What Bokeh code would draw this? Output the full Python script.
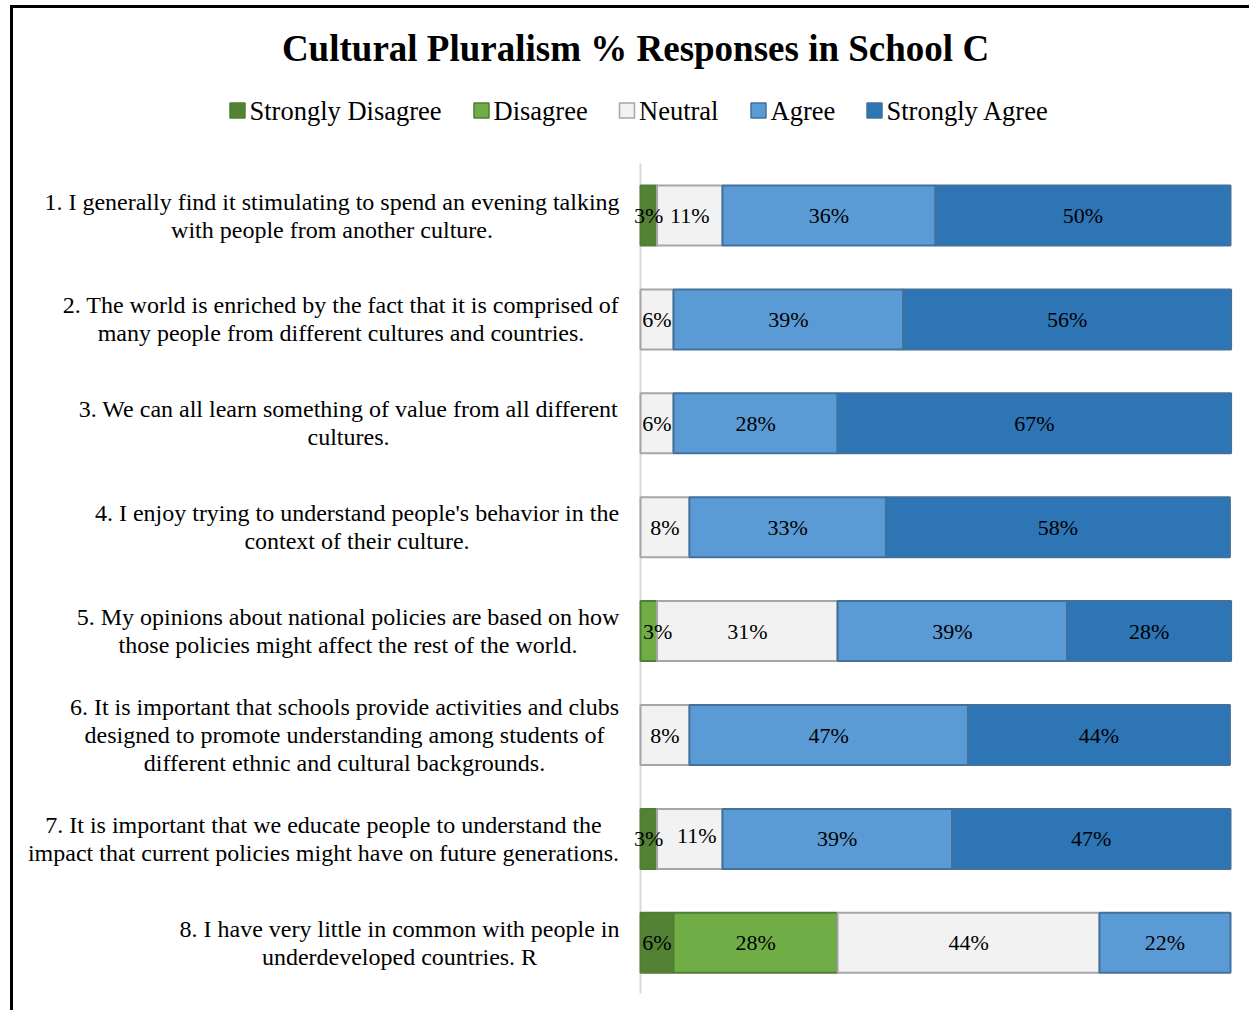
from bokeh.plotting import figure
from bokeh.models import Range1d
from bokeh.core.properties import value
from bokeh.embed import file_html
from bokeh.resources import INLINE

# ---------------- data ----------------
title = "Cultural Pluralism % Responses in School C"
levels = ["Strongly Disagree", "Disagree", "Neutral", "Agree", "Strongly Agree"]
statements = [
    ["1. I generally find it stimulating to spend an evening talking",
     "with people from another culture."],
    ["2. The world is enriched by the fact that it is comprised of",
     "many people from different cultures and countries."],
    ["3. We can all learn something of value from all different",
     "cultures."],
    ["4. I enjoy trying to understand people's behavior in the",
     "context of their culture."],
    ["5. My opinions about national policies are based on how",
     "those policies might affect the rest of the world."],
    ["6. It is important that schools provide activities and clubs",
     "designed to promote understanding among students of",
     "different ethnic and cultural backgrounds."],
    ["7. It is important that we educate people to understand the",
     "impact that current policies might have on future generations."],
    ["8. I have very little in common with people in",
     "underdeveloped countries. R"],
]
strongly_disagree = [2.8, 0, 0, 0, 0, 0, 2.8, 5.6]
disagree = [0, 0, 0, 0, 2.8, 0, 0, 27.8]
neutral = [11.1, 5.6, 5.6, 8.3, 30.6, 8.3, 11.1, 44.4]
agree = [36.1, 38.9, 27.8, 33.3, 38.9, 47.2, 38.9, 22.2]
strongly_agree = [50.0, 55.6, 66.7, 58.3, 27.8, 44.4, 47.2, 0]

# ---------------- styles ----------------
fills = ["#548235", "#70AD47", "#F2F2F2", "#5B9BD5", "#2E75B6"]
borders = ["#507E32", "#507E32", "#A6A6A6", "#41719C", "#41719C"]
FONT = value("Liberation Serif")

# canvas-pixel -> data helpers (layout only)
X0, X100 = 640.0, 1230.0
ROW1, ROWSTEP = 215.0, 103.9
def X(px):
    return (px - X0) / (X100 - X0) * 100.0
def Y(py):
    return 1.0 + (py - ROW1) / ROWSTEP

W, H = 1249, 1010
p = figure(width=W, height=H, output_backend="svg", toolbar_location=None,
           x_range=Range1d(X(0), X(W)), y_range=Range1d(Y(H), Y(0)),
           x_axis_type=None, y_axis_type=None, min_border=0,
           outline_line_color=None, background_fill_color="white",
           border_fill_color="white")
p.xgrid.visible = False
p.ygrid.visible = False

# outer frame lines (left and top)
p.segment(x0=[X(11), X(9.5)], y0=[Y(4.5), Y(6)], x1=[X(11), X(W)], y1=[Y(H), Y(6)],
          line_color="black", line_width=3)

# vertical axis line
p.segment(x0=[0], y0=[Y(163)], x1=[0], y1=[Y(993)], line_color="#D9D9D9", line_width=2)

rows = list(range(1, len(statements) + 1))
series = [strongly_disagree, disagree, neutral, agree, strongly_agree]
bar_h = 60.0 / ROWSTEP

left = [0.0] * len(rows)
lab_x, lab_y, lab_t = [], [], []
nudge = {(4, 1): 1.5, (6, 2): 1.2}
nudge_y = {(6, 2): -3.0 / ROWSTEP}
for k, vals in enumerate(series):
    ys, ls, rs = [], [], []
    for i, v in enumerate(vals):
        if v > 0:
            ys.append(rows[i]); ls.append(left[i]); rs.append(left[i] + v)
            lab_x.append(left[i] + v / 2 + nudge.get((i, k), 0))
            lab_y.append(rows[i] + nudge_y.get((i, k), 0))
            lab_t.append(f"{round(v):.0f}%")
        left[i] += v
    p.hbar(y=ys, left=ls, right=rs, height=bar_h, fill_color=fills[k],
           line_color=borders[k], line_width=2)

p.text(x=lab_x, y=lab_y, text=lab_t, text_font=FONT, text_font_size="22px",
       text_color="black", text_align="center", text_baseline="middle")

# category labels (each block centered, right edge near x=618)
label_center_px = [331.5, 340.5, 348, 356.5, 347.5, 344, 323, 399]
cx, cy, ct = [], [], []
for i, lines in enumerate(statements):
    n = len(lines)
    for j, line in enumerate(lines):
        cx.append(X(label_center_px[i]))
        cy.append(rows[i] + (j - (n - 1) / 2) * 28.0 / ROWSTEP)
        ct.append(line)
p.text(x=cx, y=cy, text=ct, text_font=FONT, text_font_size="24px",
       text_color="black", text_align="center", text_baseline="middle")

# title
p.text(x=[X(635)], y=[Y(48)], text=[title], text_font=FONT, text_font_size="37px",
       text_font_style="bold", text_color="black", text_align="center",
       text_baseline="middle")

# legend
marker_px = [237, 481, 626.5, 758, 874]
p.scatter(x=[X(m) for m in marker_px], y=[Y(110)] * 5, marker="square", size=15,
          fill_color=fills, line_color=borders, line_width=1.5)
p.text(x=[X(m + 12) for m in marker_px], y=[Y(110)] * 5, text=levels, text_font=FONT,
       text_font_size="26.5px", text_color="black", text_align="left",
       text_baseline="middle")

open("out.html", "w").write(file_html(p, INLINE))
